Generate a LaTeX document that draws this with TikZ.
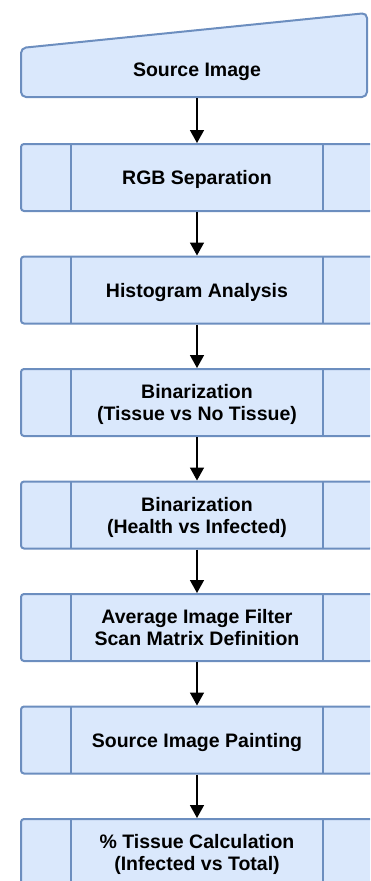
\documentclass[tikz,border=0pt]{standalone}
\usepackage{fontspec}
\setmainfont{Liberation Sans}
\usetikzlibrary{arrows.meta, positioning}

\definecolor{boxfill}{HTML}{DAE8FC}
\definecolor{boxline}{HTML}{6C8EBF}

\begin{document}
\begin{tikzpicture}[
    x=1pt, y=-1pt,
    node distance=43.5pt,
    boxtext/.style={align=center, text depth=0pt, font=\fontsize{19.5}{22}\selectfont\bfseries},
    process/.style={boxtext, draw=boxline, fill=boxfill, line width=2pt, rounded corners=3pt, minimum width=352pt, minimum height=67pt,
        path picture={
            \draw[boxline, line width=2pt] ([xshift=50pt]path picture bounding box.north west) -- ([xshift=50pt]path picture bounding box.south west);
            \draw[boxline, line width=2pt] ([xshift=-50pt]path picture bounding box.north east) -- ([xshift=-50pt]path picture bounding box.south east);
        }},
    arrow/.style={-{Triangle[width=14pt, length=13pt]}, line width=1.6pt, black}
]
\useasboundingbox (0,0) rectangle (370,881);
\clip (0,0) rectangle (370,881);

% manual input shape
\draw[draw=boxline, fill=boxfill, line width=2pt, rounded corners=5pt] (21,48) -- (367,13) -- (367,97) -- (21,97) -- cycle;
\node[boxtext, anchor=south, minimum height=56pt, inner sep=0pt, outer sep=0pt] (src) at (197,98) {Source Image};

\node[process] (rgb) at (197,177.5) {RGB Separation};
\node[process, below=of rgb] (hist) {Histogram Analysis};
\node[process, below=of hist] (tissue) {Binarization\\(Tissue vs No Tissue)};
\node[process, below=of tissue] (health) {Binarization\\(Health vs Infected)};
\node[process, below=of health] (filter) {Average Image Filter\\Scan Matrix Definition};
\node[process, below=of filter] (paint) {Source Image Painting};
\node[process, below=of paint] (calc) {\% Tissue Calculation\\(Infected vs Total)};

\draw[arrow] (src.south) -- (rgb);
\draw[arrow] (rgb) -- (hist);
\draw[arrow] (hist) -- (tissue);
\draw[arrow] (tissue) -- (health);
\draw[arrow] (health) -- (filter);
\draw[arrow] (filter) -- (paint);
\draw[arrow] (paint) -- (calc);

\end{tikzpicture}
\end{document}
